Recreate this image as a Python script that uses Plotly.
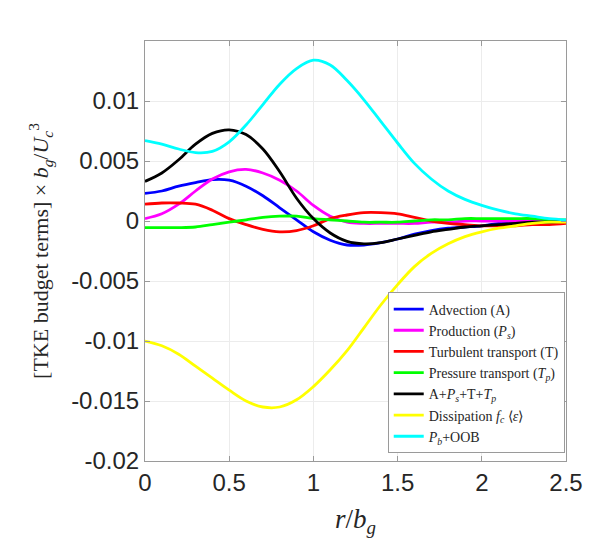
import plotly.graph_objects as go

r = [0.0, 0.1, 0.2, 0.3, 0.4, 0.5, 0.6, 0.7, 0.8, 0.9, 1.0, 1.1, 1.2,
     1.3, 1.4, 1.5, 1.6, 1.7, 1.8, 1.9, 2.0, 2.1, 2.2, 2.3, 2.4, 2.5]

advection = [0.0023, 0.0025, 0.0029, 0.0032, 0.00345, 0.0034, 0.0029, 0.0021, 0.0011, 0.0001,
             -0.0009, -0.0016, -0.0020, -0.0020, -0.0018, -0.0015, -0.0011, -0.0008, -0.0006,
             -0.0005, -0.0004, -0.0002, -0.0001, -0.0001, 0.0, 0.0]
production = [0.0002, 0.0006, 0.0014, 0.0025, 0.0035, 0.0041, 0.0043, 0.0040, 0.0034, 0.0025,
              0.0013, 0.0004, -0.0001, -0.0002, -0.0002, -0.0002, -0.0002, -0.0001, -0.0001,
              0.0, 0.0, 0.0, 0.0, 0.0, 0.0, 0.0]
turbulent = [0.0014, 0.0015, 0.0015, 0.0014, 0.0009, 0.0002, -0.0003, -0.0007, -0.0009, -0.0008,
             -0.0004, 0.0002, 0.0005, 0.0007, 0.0007, 0.0006, 0.0003, 0.0, -0.0002,
             -0.0003, -0.0004, -0.0004, -0.0004, -0.0003, -0.0003, -0.0002]
pressure = [-0.00055, -0.00055, -0.00055, -0.0005, -0.0003, -0.0001, 0.0001, 0.0003, 0.0004, 0.0004,
            0.0002, 0.0001, 0.0, -0.0001, -0.0001, -0.0001, 0.0, 0.0001, 0.0001,
            0.0002, 0.0002, 0.0002, 0.0002, 0.0002, 0.0001, 0.0001]
total = [0.0033, 0.0040, 0.0051, 0.0064, 0.0073, 0.0076, 0.0072, 0.0060, 0.0041, 0.0019,
         0.0002, -0.0010, -0.0017, -0.0019, -0.0018, -0.0015, -0.0012, -0.0009, -0.0007,
         -0.0005, -0.0004, -0.0003, -0.0002, -0.0001, -0.0001, 0.0]
dissipation = [-0.0100, -0.0104, -0.0111, -0.0121, -0.0131, -0.0141, -0.0150, -0.0155, -0.0155, -0.0149,
               -0.0138, -0.0124, -0.0108, -0.0089, -0.0070, -0.0053, -0.0038, -0.0027, -0.0019,
               -0.0013, -0.0009, -0.0006, -0.0004, -0.0002, -0.0001, -0.0001]
buoyancy = [0.0067, 0.0064, 0.0060, 0.0057, 0.0058, 0.0066, 0.0080, 0.0097, 0.0114, 0.0127,
            0.0134, 0.0130, 0.0117, 0.0101, 0.0083, 0.0065, 0.0048, 0.0035, 0.0025,
            0.0018, 0.0013, 0.0009, 0.0006, 0.0004, 0.0002, 0.0001]

names = ["Advection (A)",
         "Production (<i>P<sub>s</sub></i>)",
         "Turbulent transport (T)",
         "Pressure transport (<i>T<sub>p</sub></i>)",
         "A+<i>P<sub>s</sub></i>+T+<i>T<sub>p</sub></i>",
         "Dissipation <i>f<sub>c</sub></i> ⟨<i>ε</i>⟩",
         "<i>P<sub>b</sub></i>+OOB"]
series = [advection, production, turbulent, pressure, total, dissipation, buoyancy]
colors = ["#0000ff", "#ff00ff", "#ff0000", "#00ff00", "#000000", "#ffff00", "#00ffff"]

x_ticks = [0, 0.5, 1, 1.5, 2, 2.5]
x_labels = ["0", "0.5", "1", "1.5", "2", "2.5"]
y_ticks = [-0.02, -0.015, -0.01, -0.005, 0, 0.005, 0.01]
y_labels = ["-0.02", "-0.015", "-0.01", "-0.005", "0", "0.005", "0.01"]

fig = go.Figure()
for name, ys, c in zip(names, series, colors):
    fig.add_trace(go.Scatter(x=r, y=ys, mode="lines", name=name,
                             line=dict(color=c, width=2.8, shape="spline", smoothing=1.0)))

axis_common = dict(showline=True, linecolor="#9a9a9a", linewidth=1, mirror="ticks",
                   ticks="inside", ticklen=5, tickcolor="#9a9a9a",
                   showgrid=True, gridcolor="#ececec", gridwidth=1, zeroline=False,
                   tickfont=dict(family="Liberation Sans, Arial", size=24, color="#262626"))

fig.update_xaxes(range=[0, 2.5], tickvals=x_ticks, ticktext=x_labels,
                 title=dict(text="<i>r</i>/<i>b<sub>g</sub></i>",
                            font=dict(family="Liberation Serif, Times New Roman", size=27, color="#262626"),
                            standoff=14),
                 **axis_common)
fig.update_yaxes(range=[-0.02, 0.015], tickvals=y_ticks, ticktext=y_labels,
                 title=dict(text="[TKE budget terms] × <i>b<sub>g</sub></i>/<i>U<sub>c</sub></i><sup>3</sup>",
                            font=dict(family="Liberation Serif, Times New Roman", size=22, color="#262626"),
                            standoff=16),
                 **axis_common)

fig.update_layout(
    width=600, height=541,
    margin=dict(l=145, r=34, t=41, b=80),
    paper_bgcolor="white", plot_bgcolor="white",
    showlegend=True,
    legend=dict(x=0.997, y=0.018, xanchor="right", yanchor="bottom",
                bgcolor="white", bordercolor="#9a9a9a", borderwidth=1,
                font=dict(family="Liberation Serif, Times New Roman", size=14, color="#262626"),
                tracegroupgap=0, itemwidth=30),
)

fig.write_html("out.html")
